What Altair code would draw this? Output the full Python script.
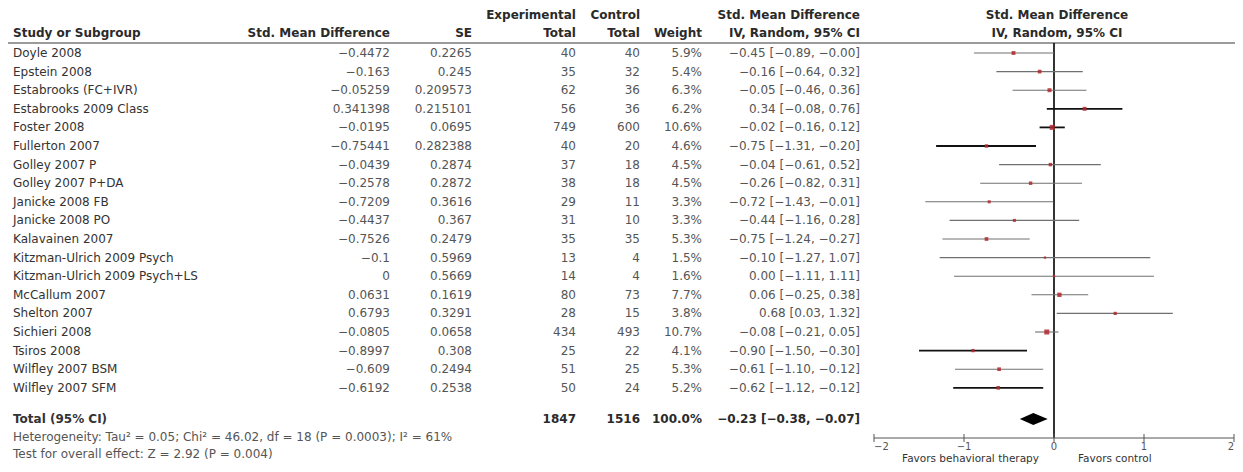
import altair as alt
import pandas as pd

# ---------------- data ----------------
studies = ["Doyle 2008", "Epstein 2008", "Estabrooks (FC+IVR)", "Estabrooks 2009 Class",
           "Foster 2008", "Fullerton 2007", "Golley 2007 P", "Golley 2007 P+DA",
           "Janicke 2008 FB", "Janicke 2008 PO", "Kalavainen 2007",
           "Kitzman-Ulrich 2009 Psych", "Kitzman-Ulrich 2009 Psych+LS", "McCallum 2007",
           "Shelton 2007", "Sichieri 2008", "Tsiros 2008", "Wilfley 2007 BSM", "Wilfley 2007 SFM"]
smd = [-0.4472, -0.163, -0.05259, 0.341398, -0.0195, -0.75441, -0.0439, -0.2578, -0.7209,
       -0.4437, -0.7526, -0.1, 0, 0.0631, 0.6793, -0.0805, -0.8997, -0.609, -0.6192]
se = [0.2265, 0.245, 0.209573, 0.215101, 0.0695, 0.282388, 0.2874, 0.2872, 0.3616, 0.367,
      0.2479, 0.5969, 0.5669, 0.1619, 0.3291, 0.0658, 0.308, 0.2494, 0.2538]
exp_total = [40, 35, 62, 56, 749, 40, 37, 38, 29, 31, 35, 13, 14, 80, 28, 434, 25, 51, 50]
ctrl_total = [40, 32, 36, 36, 600, 20, 18, 18, 11, 10, 35, 4, 4, 73, 15, 493, 22, 25, 24]
weight = [5.9, 5.4, 6.3, 6.2, 10.6, 4.6, 4.5, 4.5, 3.3, 3.3, 5.3, 1.5, 1.6, 7.7, 3.8, 10.7,
          4.1, 5.3, 5.2]
ci_est = [-0.45, -0.16, -0.05, 0.34, -0.02, -0.75, -0.04, -0.26, -0.72, -0.44, -0.75, -0.10,
          0.00, 0.06, 0.68, -0.08, -0.90, -0.61, -0.62]
ci_lo = [-0.89, -0.64, -0.46, -0.08, -0.16, -1.31, -0.61, -0.82, -1.43, -1.16, -1.24, -1.27,
         -1.11, -0.25, 0.03, -0.21, -1.50, -1.10, -1.12]
ci_hi = [-0.00, 0.32, 0.36, 0.76, 0.12, -0.20, 0.52, 0.31, -0.01, 0.28, -0.27, 1.07, 1.11,
         0.38, 1.32, 0.05, -0.30, -0.12, -0.12]

total_exp = 1847
total_ctrl = 1516
total_weight = 100.0
total_est, total_lo, total_hi = -0.23, -0.38, -0.07

axis_ticks = [-2, -1, 0, 1, 2]

heterogeneity = "Heterogeneity: Tau\u00b2 = 0.05; Chi\u00b2 = 46.02, df = 18 (P = 0.0003); I\u00b2 = 61%"
overall = "Test for overall effect: Z = 2.92 (P = 0.004)"

# style: CI lines drawn darker / heavier in the reference
dark_lines = ["Estabrooks 2009 Class", "Foster 2008", "Fullerton 2007", "Tsiros 2008",
              "Wilfley 2007 SFM"]

# ---------------- build tables ----------------
def minus(s):
    return s.replace("-", "\u2212")

n = len(studies)
rows = pd.DataFrame({
    "study": studies,
    "row": list(range(n)),
    "smd_txt": [minus(format(v, "g")) for v in smd],
    "se_txt": [format(v, "g") for v in se],
    "exp_txt": [str(v) for v in exp_total],
    "ctrl_txt": [str(v) for v in ctrl_total],
    "w_txt": [f"{v:.1f}%" for v in weight],
    "ci_txt": [minus(f"{e:.2f} [{l:.2f}, {h:.2f}]") for e, l, h in zip(ci_est, ci_lo, ci_hi)],
    "est": ci_est, "lo": ci_lo, "hi": ci_hi, "weight": weight,
})

total_pos = (n - 1) + 1.68
total = pd.DataFrame({
    "row": [total_pos],
    "label": ["Total (95% CI)"],
    "exp_txt": [str(total_exp)],
    "ctrl_txt": [str(total_ctrl)],
    "w_txt": [f"{total_weight:.1f}%"],
    "ci_txt": [minus(f"{total_est:.2f} [{total_lo:.2f}, {total_hi:.2f}]")],
})
dh = 0.32
diamond = pd.DataFrame({
    "x": [total_lo, total_est, total_hi],
    "y": [total_pos, total_pos - dh, total_pos],
    "y2": [total_pos, total_pos + dh, total_pos],
})
ticks = pd.DataFrame({"t": axis_ticks,
                      "lab": [minus(str(t)) for t in axis_ticks]})
one = pd.DataFrame({"k": [0]})

# ---------------- layout ----------------
W, H = 1227, 456
FONT = "DejaVu Sans"
FS = 12
NAME_C = "#333333"
NUM_C = "#555555"
HEAD_C = "#2a2a2a"

yscale = alt.Scale(domain=[0, n - 1], range=[45, 45 + 18.6 * (n - 1)], nice=False, zero=False)
xscale = alt.Scale(domain=[-2, 2], range=[866, 1226], nice=False, zero=False)

X_STUDY, X_SMD, X_SE, X_EXP, X_CTRL, X_W, X_CI = 5, 382, 464, 568, 632, 694, 852
Y_H1, Y_H2, Y_RULE, Y_AXIS = 7, 25, 35, 430


def col_text(df, field, x, align="right", color=NUM_C, bold=False):
    return alt.Chart(df).mark_text(
        align=align, baseline="middle", font=FONT, fontSize=FS,
        fontWeight="bold" if bold else "normal", color=color
    ).encode(
        x=alt.value(x),
        y=alt.Y("row:Q", scale=yscale, axis=None),
        text=alt.Text(f"{field}:N"),
    )


def label(txt, x, y, align="left", bold=False, color=HEAD_C, size=FS):
    return alt.Chart(one).mark_text(
        align=align, baseline="middle", font=FONT, fontSize=size,
        fontWeight="bold" if bold else "normal", color=color
    ).encode(x=alt.value(x), y=alt.value(y), text=alt.value(txt))


layers = []

# headers
layers += [
    label("Experimental", X_EXP, Y_H1, "right", True),
    label("Control", X_CTRL, Y_H1, "right", True),
    label("Std. Mean Difference", X_CI, Y_H1, "right", True),
    label("Std. Mean Difference", 1049, Y_H1, "center", True),
    label("Study or Subgroup", X_STUDY, Y_H2, "left", True),
    label("Std. Mean Difference", X_SMD, Y_H2, "right", True),
    label("SE", X_SE, Y_H2, "right", True),
    label("Total", X_EXP, Y_H2, "right", True),
    label("Total", X_CTRL, Y_H2, "right", True),
    label("Weight", X_W, Y_H2, "right", True),
    label("IV, Random, 95% CI", X_CI, Y_H2, "right", True),
    label("IV, Random, 95% CI", 1049, Y_H2, "center", True),
]
layers.append(
    alt.Chart(one).mark_rule(color="#7a7a7a", strokeWidth=1.5).encode(
        x=alt.value(0), x2=alt.value(W), y=alt.value(Y_RULE))
)

# study rows
layers += [
    col_text(rows, "study", X_STUDY, "left", NAME_C),
    col_text(rows, "smd_txt", X_SMD),
    col_text(rows, "se_txt", X_SE),
    col_text(rows, "exp_txt", X_EXP),
    col_text(rows, "ctrl_txt", X_CTRL),
    col_text(rows, "w_txt", X_W),
    col_text(rows, "ci_txt", X_CI),
]

# total row
layers += [
    col_text(total, "label", X_STUDY, "left", NAME_C, True),
    col_text(total, "exp_txt", X_EXP, "right", HEAD_C, True),
    col_text(total, "ctrl_txt", X_CTRL, "right", HEAD_C, True),
    col_text(total, "w_txt", X_W, "right", HEAD_C, True),
    col_text(total, "ci_txt", X_CI, "right", HEAD_C, True),
    label(heterogeneity, X_STUDY, 429, "left", False, NUM_C),
    label(overall, X_STUDY, 446, "left", False, NUM_C),
]

# forest: zero line
layers.append(
    alt.Chart(ticks).transform_filter(alt.datum.t == 0).mark_rule(
        color="black", strokeWidth=1.6).encode(
        x=alt.X("t:Q", scale=xscale, axis=None), y=alt.value(Y_RULE), y2=alt.value(Y_AXIS))
)
# CI lines
enc_ci = dict(
    x=alt.X("lo:Q", scale=xscale, axis=None), x2="hi:Q",
    y=alt.Y("row:Q", scale=yscale, axis=None),
)
layers.append(
    alt.Chart(rows).transform_filter(
        ~alt.FieldOneOfPredicate(field="study", oneOf=dark_lines)
    ).mark_rule(color="#707070", strokeWidth=1.1).encode(**enc_ci)
)
layers.append(
    alt.Chart(rows).transform_filter(
        alt.FieldOneOfPredicate(field="study", oneOf=dark_lines)
    ).mark_rule(color="#111111", strokeWidth=1.8).encode(**enc_ci)
)
# study squares
layers.append(
    alt.Chart(rows).mark_square(filled=True, color="#b0282c", opacity=0.85).encode(
        x=alt.X("est:Q", scale=xscale, axis=None),
        y=alt.Y("row:Q", scale=yscale, axis=None),
        size=alt.Size("weight:Q", scale=alt.Scale(domain=[0, 11], range=[2, 26]), legend=None),
    )
)
# total diamond
layers.append(
    alt.Chart(diamond).mark_area(color="black", orient="vertical").encode(
        x=alt.X("x:Q", scale=xscale, axis=None),
        y=alt.Y("y:Q", scale=yscale, axis=None),
        y2="y2:Q",
    )
)
# axis
layers.append(
    alt.Chart(ticks).transform_aggregate(lo="min(t)", hi="max(t)").mark_rule(
        color="#555555", strokeWidth=1).encode(
        x=alt.X("lo:Q", scale=xscale, axis=None), x2="hi:Q", y=alt.value(Y_AXIS))
)
layers.append(
    alt.Chart(ticks).mark_rule(color="#555555", strokeWidth=1).encode(
        x=alt.X("t:Q", scale=xscale, axis=None), y=alt.value(Y_AXIS - 4), y2=alt.value(Y_AXIS + 4))
)
t_lo, t_hi = min(axis_ticks), max(axis_ticks)
for flt, al in [((alt.datum.t > t_lo) & (alt.datum.t < t_hi), "center"),
                (alt.datum.t == t_lo, "left"),
                (alt.datum.t == t_hi, "right")]:
    layers.append(
        alt.Chart(ticks).transform_filter(flt).mark_text(
            font=FONT, fontSize=10, color=NUM_C, baseline="middle", align=al).encode(
            x=alt.X("t:Q", scale=xscale, axis=None), y=alt.value(Y_AXIS + 9), text="lab:N")
    )
layers += [
    label("Favors behavioral therapy", 1031, 450.5, "right", False, "#333333", 10.5),
    label("Favors control", 1070, 450.5, "left", False, "#333333", 10.5),
]

chart = alt.layer(*layers).properties(
    width=W, height=H, autosize=alt.AutoSizeParams(type="none"), padding=0,
    background="white",
).configure_view(stroke=None)

chart.save("out.html", embed_options={"renderer": "svg", "actions": False})
